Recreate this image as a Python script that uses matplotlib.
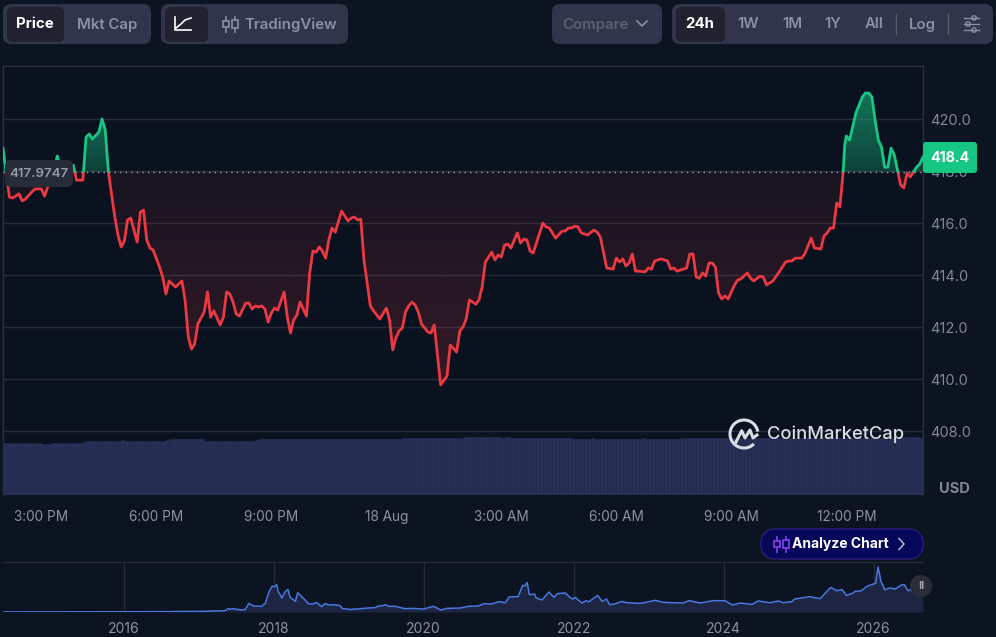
import numpy as np
import matplotlib
matplotlib.use('Agg')
import matplotlib.pyplot as plt
from matplotlib.patches import FancyBboxPatch, Rectangle, Circle, Arc, PathPatch
from matplotlib.path import Path

plt.rcParams['font.family'] = ['Inter', 'DejaVu Sans']

# 5 minute slots counted from 2:00 PM
slots = [0, 1, 2, 3, 5, 6, 7, 9, 10, 12, 13, 14, 16, 17, 18, 19, 20, 22, 23, 25, 26, 27, 28, 30, 31, 32, 33, 35, 36, 37,
         38, 39, 40, 42, 43, 44, 45, 46, 47, 49, 50, 51, 52, 54, 56, 57, 58, 59, 60, 61, 62, 63, 64, 65, 66, 68, 69, 70,
         71, 72, 73, 74, 76, 77, 78, 79, 80, 81, 82, 83, 84, 85, 86, 88, 89, 90, 91, 92, 93, 95, 96, 97, 98, 99, 100,
         101, 102, 103, 104, 106, 108, 109, 110, 111, 112, 113, 115, 116, 118, 120, 121, 122, 123, 124, 125, 126, 127,
         128, 129, 130, 131, 133, 134, 135, 137, 139, 140, 142, 143, 144, 145, 146, 148, 149, 150, 151, 153, 154, 155,
         156, 157, 158, 159, 161, 162, 163, 164, 165, 166, 169, 170, 171, 173, 175, 176, 177, 178, 179, 180, 181, 183,
         185, 186, 187, 189, 191, 192, 193, 194, 195, 196, 197, 198, 199, 201, 202, 203, 204, 206, 208, 209, 210, 211,
         214, 215, 216, 217, 218, 219, 220, 221, 222, 223, 224, 225, 226, 227, 229, 230, 231, 233, 234, 235, 237, 238,
         239, 241, 243, 245, 246, 247, 248, 250, 251, 253, 254, 256, 257, 258, 259, 260, 261, 262, 263, 263.5, 264, 265,
         267, 269, 270, 271, 272, 273, 274, 275, 276, 277, 278, 279, 280, 281, 282, 283, 284, 285, 286, 287, 288]
prices = [418.88, 417.92, 417.00, 416.96, 417.12, 416.85, 416.92, 417.19, 417.31, 417.31, 417.04, 417.38, 418.04, 418.58,
          418.04, 417.73, 417.85, 418.23, 417.65, 417.65, 419.31, 419.42, 419.23, 419.50, 420.00, 419.58, 417.96, 416.23,
          415.54, 415.08, 415.31, 416.12, 416.19, 415.27, 416.42, 416.50, 415.35, 415.04, 414.96, 414.31, 413.92, 413.27,
          413.77, 413.54, 413.77, 413.04, 411.62, 411.15, 411.35, 412.12, 412.35, 412.58, 413.35, 412.38, 412.62, 412.08,
          412.38, 413.35, 413.27, 412.96, 412.50, 412.42, 412.92, 412.92, 412.69, 412.81, 412.77, 412.81, 412.69, 412.19,
          412.54, 412.73, 412.65, 413.35, 412.38, 411.77, 412.27, 412.46, 412.96, 412.42, 414.08, 414.92, 414.88, 415.08,
          414.92, 414.65, 415.35, 415.81, 415.65, 416.46, 416.08, 416.19, 416.23, 416.12, 416.15, 414.58, 412.81, 412.62,
          412.31, 412.73, 412.27, 411.12, 411.58, 411.85, 411.96, 412.58, 412.81, 412.96, 412.85, 412.58, 412.12, 411.81,
          411.77, 412.08, 409.77, 410.12, 411.31, 411.04, 411.85, 412.00, 412.31, 413.04, 412.88, 413.04, 413.54, 414.50,
          414.88, 414.58, 414.77, 414.69, 415.15, 415.19, 415.04, 415.62, 415.23, 415.38, 415.35, 414.92, 414.85, 416.00,
          415.85, 415.81, 415.42, 415.69, 415.69, 415.81, 415.81, 415.88, 415.85, 415.62, 415.54, 415.73, 415.65, 415.46,
          414.27, 414.23, 414.65, 414.50, 414.62, 414.35, 414.46, 414.81, 414.15, 414.15, 414.12, 414.27, 414.23, 414.54,
          414.62, 414.54, 414.23, 414.27, 414.15, 414.27, 414.81, 414.81, 413.92, 413.88, 414.08, 413.96, 414.46, 414.46,
          414.31, 413.31, 413.08, 413.19, 413.08, 413.62, 413.81, 413.85, 414.08, 413.88, 413.77, 413.96, 413.92, 413.62,
          413.77, 414.12, 414.50, 414.54, 414.54, 414.65, 414.65, 414.81, 415.42, 415.04, 415.00, 415.50, 415.62, 415.81,
          415.81, 416.77, 416.62, 417.96, 419.00, 419.35, 419.19, 420.23, 420.85, 421.00, 421.00, 420.85, 419.96, 419.19,
          418.92, 418.15, 418.15, 418.88, 418.62, 418.04, 417.46, 417.35, 417.92, 417.77, 417.96, 418.15, 418.27, 418.54]
volumes = [52.0, 52.0, 52.0, 52.0, 52.0, 52.0, 52.0, 52.0, 52.0, 52.0, 52.0, 52.0, 51.3, 51.3, 51.4, 51.6, 52.0, 52.0, 52.0, 52.0, 52.0, 52.0, 52.0, 52.0,
           52.3, 53.5, 54.3, 54.3, 54.3, 54.3, 54.3, 54.3, 54.3, 54.3, 54.3, 54.3, 54.3, 54.6, 54.0, 54.0, 54.3, 54.3, 54.3, 54.3, 54.3, 54.3, 54.3, 54.3,
           54.3, 54.3, 54.3, 55.2, 55.7, 55.7, 55.7, 55.7, 55.7, 55.7, 55.7, 55.7, 55.7, 55.7, 55.7, 54.5, 54.3, 54.3, 54.3, 54.3, 54.3, 54.3, 54.3, 54.3,
           54.3, 54.3, 54.3, 54.3, 54.3, 54.3, 54.3, 55.0, 55.7, 55.7, 55.7, 55.7, 55.7, 55.7, 55.7, 55.7, 55.7, 55.7, 55.7, 55.7, 55.7, 55.7, 56.0, 56.3,
           56.3, 56.3, 56.3, 56.3, 56.3, 56.3, 56.3, 56.3, 56.3, 56.3, 55.9, 55.9, 55.9, 56.4, 55.9, 55.9, 55.9, 55.9, 55.9, 55.9, 55.9, 55.9, 55.9, 55.9,
           55.9, 55.9, 55.9, 55.9, 56.5, 57.0, 57.0, 57.0, 57.0, 57.0, 57.0, 57.0, 57.0, 57.0, 57.0, 57.0, 57.0, 57.0, 57.0, 57.0, 57.0, 57.0, 57.0, 57.0,
           57.7, 57.7, 57.7, 57.7, 57.7, 57.7, 57.7, 57.7, 57.7, 57.7, 57.7, 57.7, 57.5, 57.9, 57.7, 57.3, 57.3, 57.3, 57.5, 57.5, 57.5, 57.5, 57.5, 57.5,
           57.5, 57.5, 57.5, 57.5, 57.5, 57.5, 57.5, 57.5, 57.5, 57.5, 56.5, 56.3, 56.3, 56.3, 56.3, 56.3, 56.7, 56.3, 56.3, 56.3, 56.3, 56.3, 56.3, 56.3,
           56.3, 56.3, 56.3, 56.3, 56.3, 56.3, 56.3, 56.3, 56.8, 56.3, 56.3, 56.3, 56.3, 56.3, 56.3, 56.3, 56.3, 56.3, 56.3, 56.3, 56.8, 57.5, 57.5, 57.5,
           57.5, 57.5, 57.5, 57.5, 57.5, 57.5, 57.5, 57.5, 57.5, 57.5, 57.5, 57.5, 57.5, 57.5, 57.5, 57.5, 57.5, 57.5, 57.5, 57.5, 57.5, 57.5, 57.5, 57.5,
           57.5, 57.5, 57.5, 57.5, 57.5, 57.5, 57.5, 57.5, 57.5, 57.5, 57.5, 57.5, 57.5, 57.5, 57.5, 57.5, 57.5, 57.5, 57.5, 57.5, 57.5, 57.5, 57.5, 57.5,
           57.5, 57.5, 57.5, 57.5, 57.5, 57.5, 57.5, 57.5, 57.5, 57.5, 57.5, 57.5, 57.5, 57.5, 57.5, 57.5, 57.5, 58.0, 58.3, 58.3, 58.3, 58.3, 58.0, 57.5]
baseline = 417.9747
last_price = '418.4'
hour_ticks = [12, 48, 84, 120, 156, 192, 228, 264]
hour_labels = ['3:00 PM', '6:00 PM', '9:00 PM', '18 Aug', '3:00 AM', '6:00 AM', '9:00 AM', '12:00 PM']
price_ticks = [408, 410, 412, 414, 416, 418, 420]

# all time overview
years = [2014.39, 2016.62, 2016.66, 2017.02, 2017.35, 2017.40, 2017.42, 2017.45, 2017.58, 2017.62, 2017.67, 2017.73, 2017.84,
         2017.89, 2017.94, 2017.98, 2018.01, 2018.04, 2018.06, 2018.11, 2018.15, 2018.19, 2018.22, 2018.29, 2018.32, 2018.40,
         2018.47, 2018.52, 2018.57, 2018.64, 2018.69, 2018.73, 2018.79, 2018.88, 2018.92, 2019.02, 2019.11, 2019.26, 2019.35,
         2019.40, 2019.46, 2019.49, 2019.53, 2019.62, 2019.75, 2019.86, 2020.00, 2020.13, 2020.23, 2020.31, 2020.49, 2020.60,
         2020.73, 2020.80, 2020.91, 2021.00, 2021.09, 2021.14, 2021.26, 2021.32, 2021.35, 2021.38, 2021.41, 2021.48, 2021.50,
         2021.58, 2021.67, 2021.74, 2021.78, 2021.89, 2021.95, 2021.99, 2022.02, 2022.11, 2022.17, 2022.20, 2022.32, 2022.38,
         2022.44, 2022.48, 2022.55, 2022.64, 2022.71, 2022.89, 2023.09, 2023.20, 2023.46, 2023.54, 2023.69, 2023.86, 2024.02,
         2024.12, 2024.22, 2024.38, 2024.46, 2024.62, 2024.73, 2024.80, 2024.91, 2024.95, 2025.15, 2025.29, 2025.37, 2025.43,
         2025.51, 2025.58, 2025.64, 2025.73, 2025.75, 2025.84, 2025.91, 2026.00, 2026.03, 2026.06, 2026.10, 2026.15, 2026.22,
         2026.29, 2026.38, 2026.41, 2026.46, 2026.50, 2026.52]
all_prices = [1, 10, 14, 17, 38, 104, 75, 96, 58, 75, 249, 174, 162,
              261, 597, 742, 734, 792, 597, 406, 580, 655, 423, 307, 560, 386,
              232, 232, 278, 154, 249, 203, 212, 191, 96, 75, 87, 116, 125,
              174, 183, 212, 165, 165, 96, 104, 87, 165, 58, 104, 116, 165,
              174, 241, 232, 299, 270, 435, 444, 771, 754, 858, 502, 522, 406,
              348, 580, 423, 531, 551, 423, 377, 423, 261, 328, 290, 481, 307,
              377, 212, 232, 307, 270, 249, 336, 278, 261, 328, 261, 328, 328,
              203, 261, 220, 319, 270, 319, 270, 299, 377, 444, 386, 580, 713,
              618, 647, 481, 551, 597, 618, 742, 812, 841, 1305, 887, 647, 696,
              667, 792, 792, 618, 647, 580]
year_ticks = [2016, 2018, 2020, 2022, 2024, 2026]

BG = '#0d1421'
RED = '#ea3943'
GREEN = '#16c784'
GRID = '#262b38'
MUTED = '#80869a'
W, H = 996, 637


def axes_at(left, top, right, bottom, **kw):
    return fig.add_axes([left / W, 1 - bottom / H, (right - left) / W, (bottom - top) / H], **kw)


fig = plt.figure(figsize=(9.96, 6.37), dpi=100, facecolor=BG)

# main price panel
ax = axes_at(3, 66, 923, 495, facecolor='#0b121f')
ax.set_xlim(0, 288)
ax.set_ylim(405.54, 422.04)
ax.set_axisbelow(True)
ax.yaxis.tick_right()
ax.set_yticks(price_ticks)
ax.set_yticklabels(['%.1f' % p for p in price_ticks], va='center_baseline')
ax.set_xticks(hour_ticks)
ax.set_xticklabels(hour_labels)
ax.tick_params(axis='y', length=0, pad=5, labelsize=10.5, labelcolor=MUTED)
ax.tick_params(axis='x', length=0, pad=11, labelsize=9.8, labelcolor='#8d929f')
ax.grid(axis='y', color=GRID, lw=1)
for side in ax.spines:
    ax.spines[side].set_color('#2a2f3b')
    ax.spines[side].set_linewidth(1)
ax.spines['bottom'].set_visible(False)

# gradient fills, stronger further away from the baseline
xs = np.array(slots, dtype=float)
ys = np.array(prices)
verts = [(xs[0], baseline)] + list(zip(xs, ys)) + [(xs[-1], baseline), (xs[0], baseline)]
area = Path(verts, [Path.MOVETO] + [Path.LINETO] * (len(verts) - 2) + [Path.CLOSEPOLY])

grad = np.linspace(0, 1, 256)[:, None]
green_img = np.zeros((256, 1, 4))
green_img[..., :3] = matplotlib.colors.to_rgb(GREEN)
green_img[..., 3] = 0.25 + 0.3 * (grad ** 0.8)  # row 0 is at the baseline
red_img = np.zeros((256, 1, 4))
red_img[..., :3] = matplotlib.colors.to_rgb(RED)
red_img[..., 3] = 0.06 + 0.13 * grad

im_g = ax.imshow(green_img, extent=[0, 288, baseline, 421.2], origin='lower', aspect='auto', zorder=1)
im_r = ax.imshow(red_img, extent=[0, 288, baseline, 409.5], origin='lower', aspect='auto', zorder=1)
ax.set_xlim(0, 288)
ax.set_ylim(405.54, 422.04)
im_g.set_clip_path(PathPatch(area, transform=ax.transData))
im_r.set_clip_path(PathPatch(area, transform=ax.transData))

green_line, = ax.plot(xs, ys, color=GREEN, lw=2, zorder=3, solid_joinstyle='round')
red_line, = ax.plot(xs, ys, color=RED, lw=2, zorder=3, solid_joinstyle='round')
green_line.set_clip_path(Rectangle((0, baseline), 288, 10, transform=ax.transData))
red_line.set_clip_path(Rectangle((0, baseline - 20), 288, 20, transform=ax.transData))
ax.axhline(baseline, color='#9aa0ac', lw=1, ls=(0, (1, 3)), zorder=4)

# volume bars
vol_ax = axes_at(3, 66, 923, 495)
vol_ax.patch.set_visible(False)
vol_ax.set_xlim(0, 288)
vol_ax.set_ylim(0, 429)
vol_ax.axis('off')
vol_ax.bar(np.arange(len(volumes)) + 0.5, volumes, width=1.0, color='#262f55', edgecolor='#222b4d', linewidth=0.5)

# overview panel
nav = axes_at(3, 562, 923, 612, facecolor=BG)
nav.set_xlim(2014.39, 2026.66)
nav.set_ylim(0, 1450)
nav.set_xticks(year_ticks)
nav.set_xticklabels([str(y) for y in year_ticks])
nav.tick_params(axis='x', length=0, pad=7, labelsize=10, labelcolor='#8d929f')
nav.set_yticks([])
nav.grid(axis='x', color=GRID, lw=1)
nav.set_axisbelow(True)
for side in ['left', 'right', 'bottom']:
    nav.spines[side].set_visible(False)
nav.spines['top'].set_color(GRID)
nav.fill_between(years + [2026.66], all_prices + [all_prices[-1]], 0, color='#1f2745', lw=0, alpha=0.95)
nav.plot(years, all_prices, color='#4878e0', lw=1.1)

# overlay in pixel coordinates for the toolbar and badges
ui = fig.add_axes([0, 0, 1, 1], zorder=10)
ui.set_xlim(0, W)
ui.set_ylim(H, 0)
ui.axis('off')


def box(x0, y0, x1, y1, color, r=8, edge='none', lw=0):
    ui.add_patch(FancyBboxPatch((x0 + r, y0 + r), x1 - x0 - 2 * r, y1 - y0 - 2 * r,
                                boxstyle='round,pad=%d,rounding_size=%d' % (r, r),
                                fc=color, ec=edge, lw=lw))


def label(x, y, s, color, size=10.8, weight='semibold', ha='center'):
    ui.text(x, y, s, color=color, fontsize=size, fontweight=weight, ha=ha, va='center')


def candles(x, y, color, lw=1.2):
    for dx, h in [(0, 3.2), (9, 4.2)]:
        ui.plot([x + dx, x + dx], [y - 7.5, y + 7.5], color=color, lw=lw)
        ui.add_patch(Rectangle((x + dx - 2.6, y - h), 5.2, 2 * h, fc=face_for_icon, ec=color, lw=lw, zorder=3))


PILL = '#32354a'
SEL = '#20222f'
TXT = '#8a8fa3'
box(3, 4, 151, 44, PILL)
box(7, 7, 64, 42, SEL, r=6)
label(35, 24.5, 'Price', 'white', weight='bold')
label(107, 24.5, 'Mkt Cap', TXT)

box(161, 4, 348, 44, PILL)
box(165, 7, 208, 42, SEL, r=6)
ui.plot([175, 175, 191], [17, 30, 30], color='white', lw=1.2)
ui.plot([176, 181, 185, 191], [28, 24, 20, 18], color='white', lw=1.2)
face_for_icon = PILL
candles(226, 24, TXT)
label(291, 24.5, 'TradingView', TXT)

box(552, 4, 662, 44, PILL)
label(595, 24.5, 'Compare', '#5b6073')
ui.plot([637, 642, 647], [21, 26, 21], color=TXT, lw=1.2)

box(672, 4, 993, 44, PILL)
box(676, 7, 725, 42, SEL, r=6)
label(700, 24.5, '24h', 'white', weight='bold')
for cx, s in [(748, '1W'), (792, '1M'), (833, '1Y'), (874, 'All'), (922, 'Log')]:
    label(cx, 24.5, s, TXT)
for cx in [896, 948]:
    ui.plot([cx, cx], [14, 34], color='#555a6c', lw=1)
for yy, dot in [(18, 974), (24, 968), (30, 974)]:
    ui.plot([964, 979], [yy, yy], color=TXT, lw=1)
    ui.add_patch(Circle((dot, yy), 2.2, fc=PILL, ec=TXT, lw=1))

# baseline label and last price tag
box(5, 160, 73, 187, '#282b38', r=6)
label(39, 174, '%.4f' % baseline, '#969baa', size=9.6)
box(923, 142, 977, 173, GREEN, r=3)
label(950, 158, last_price, 'white', size=10.2, weight='bold')
label(954.5, 489, 'USD', MUTED, size=10.5, weight='bold')

# watermark
ui.add_patch(Arc((744, 434), 28, 28, theta1=45, theta2=350, color='#d8dce4', lw=2.2))
ui.plot([736, 741.7, 745, 750, 753, 757], [442, 430.7, 438, 430, 438, 435], color='#d8dce4', lw=2.2, solid_joinstyle='round')
label(836, 434.5, 'CoinMarketCap', '#d8dce4', size=13.2, weight='medium')

# analyze chart button and overview handle
box(761, 529, 923, 559, '#05085a', r=15, edge='#2a1a78', lw=1)
face_for_icon = '#05085a'
candles(777, 544, '#7b3fe4', lw=1.3)
label(840, 544, 'Analyze Chart', 'white', size=10, weight='bold')
ui.plot([899, 904, 899], [538.5, 544, 549.5], color='#b8bcc8', lw=1.1)
ui.add_patch(Circle((921, 586), 11, fc='#2a2d38', ec='none'))
label(921, 586, 'II', '#a5a9b5', size=8)

fig.savefig('out.png', dpi=100, facecolor=BG)
